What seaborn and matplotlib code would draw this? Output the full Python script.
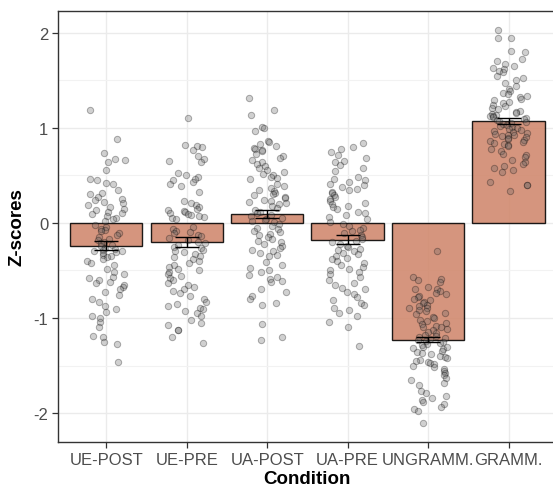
import numpy as np
import pandas as pd
import matplotlib.pyplot as plt
import seaborn as sns
from matplotlib.ticker import MultipleLocator

# --- values ---
conditions = ["UE-POST", "UE-PRE", "UA-POST", "UA-PRE", "UNGRAMM.", "GRAMM."]
means = [-0.24, -0.20, 0.095, -0.175, -1.228, 1.075]
ses = [0.045, 0.05, 0.045, 0.045, 0.028, 0.033]

ue_post = [1.19, 0.88, 0.74, 0.67, 0.66, 0.64, 0.56, 0.46, 0.45, 0.42, 0.41,
           0.35, 0.32, 0.30, 0.27, 0.25, 0.24, 0.22, 0.21, 0.19, 0.17, 0.15, 0.14,
           0.12, 0.10, 0.09, 0.07, 0.05, 0.04, 0.02,
           -0.02, -0.04, -0.06, -0.07, -0.09, -0.11, -0.13, -0.15, -0.17, -0.18,
           -0.20, -0.21, -0.23, -0.24,
           -0.26, -0.27, -0.28, -0.29, -0.30, -0.31, -0.32, -0.34, -0.35, -0.36,
           -0.38, -0.40, -0.42, -0.44,
           -0.48, -0.52, -0.54, -0.57, -0.58, -0.60, -0.62, -0.63, -0.65, -0.67,
           -0.70, -0.73, -0.76,
           -0.80, -0.83, -0.87, -0.91, -0.94, -0.98, -1.00, -1.04, -1.10,
           -1.19, -1.20, -1.25, -1.27, -1.46]
ue_pre = [1.10, 0.82, 0.81, 0.80, 0.77, 0.70, 0.67, 0.65, 0.64,
          0.53, 0.50, 0.48, 0.46, 0.45, 0.43, 0.41, 0.39, 0.33,
          0.23, 0.21, 0.19, 0.17, 0.15, 0.14, 0.13, 0.12, 0.10, 0.09, 0.08, 0.07,
          0.06, 0.05, 0.04,
          -0.04, -0.06, -0.08, -0.10, -0.11, -0.13, -0.14, -0.16, -0.18, -0.20,
          -0.21, -0.23, -0.25, -0.26, -0.28, -0.29, -0.31, -0.33, -0.35, -0.36,
          -0.38, -0.40, -0.42, -0.44, -0.46, -0.48, -0.50, -0.52, -0.54, -0.56,
          -0.58, -0.60, -0.63, -0.65, -0.67, -0.69, -0.72, -0.74, -0.77,
          -0.80, -0.83, -0.85, -0.87, -0.89, -0.91, -0.93, -0.95, -0.98,
          -1.02, -1.05, -1.07, -1.13, -1.13, -1.20, -1.26]
ua_post = [1.31, 1.19, 1.14, 1.01, 1.00, 0.97,
           0.86, 0.85, 0.83, 0.81, 0.79, 0.78, 0.77, 0.76,
           0.73, 0.70, 0.68, 0.66, 0.64, 0.62, 0.60, 0.58, 0.56, 0.54, 0.52, 0.50,
           0.48, 0.47, 0.46,
           0.41, 0.39, 0.37, 0.35, 0.34, 0.32, 0.30, 0.29, 0.27, 0.26, 0.24, 0.23,
           0.22, 0.21, 0.20,
           0.18, 0.16, 0.14, 0.12, 0.10, 0.08, 0.07, 0.05, 0.04, 0.03, 0.02, 0.01,
           -0.01, -0.03, -0.05, -0.06, -0.08, -0.10, -0.12, -0.13, -0.15, -0.17,
           -0.19, -0.20, -0.22, -0.24, -0.26, -0.28, -0.30, -0.32, -0.34, -0.35,
           -0.41, -0.44, -0.47, -0.50, -0.52, -0.55, -0.57, -0.59, -0.61, -0.62,
           -0.70, -0.73, -0.77, -0.80, -0.84, -0.86,
           -1.06, -1.20, -1.23]
ua_pre = [0.84, 0.80, 0.78, 0.75, 0.72, 0.68, 0.65,
          0.64, 0.61, 0.58, 0.55,
          0.48, 0.46, 0.45, 0.43, 0.41, 0.40, 0.38, 0.36, 0.35, 0.33,
          0.31, 0.29, 0.27, 0.25, 0.23, 0.21, 0.20, 0.18,
          0.17, 0.15, 0.12, 0.10, 0.08, 0.06, 0.04, 0.01,
          -0.01, -0.03, -0.05, -0.07, -0.09, -0.11, -0.13, -0.15, -0.17, -0.19,
          -0.20, -0.22, -0.24, -0.25, -0.27, -0.28, -0.30, -0.32, -0.33, -0.35,
          -0.37, -0.38, -0.40, -0.42, -0.44, -0.46, -0.48, -0.50, -0.52, -0.54,
          -0.57, -0.60, -0.63, -0.65, -0.68, -0.70, -0.73, -0.75,
          -0.78, -0.81, -0.84, -0.86, -0.89, -0.92, -0.95, -0.98,
          -1.04, -1.09, -1.29]
ungramm = [-0.29, -0.57, -0.59, -0.60, -0.62,
           -0.67, -0.69, -0.70, -0.72, -0.74, -0.75, -0.77, -0.78, -0.80, -0.81,
           -0.83, -0.84, -0.86, -0.87, -0.89, -0.90, -0.92, -0.93, -0.95, -0.96,
           -0.99, -1.00, -1.02, -1.03, -1.05, -1.06, -1.08, -1.09, -1.10, -1.12,
           -1.13, -1.15, -1.16, -1.18, -1.19, -1.20, -1.21, -1.22, -1.23, -1.24,
           -1.25, -1.26, -1.27, -1.28, -1.30, -1.31, -1.32, -1.33, -1.35, -1.36,
           -1.37, -1.38, -1.40, -1.41, -1.42, -1.44, -1.45, -1.46, -1.47, -1.48,
           -1.50, -1.52, -1.54, -1.56, -1.58, -1.60, -1.63, -1.65, -1.68, -1.70,
           -1.77, -1.79, -1.82, -1.84, -1.86, -1.88, -1.91, -1.94, -1.96, -1.98,
           -2.10]
gramm = [2.03, 1.95, 1.95, 1.81, 1.80, 1.73, 1.63,
         1.70, 1.67, 1.65, 1.62, 1.60, 1.59,
         1.55, 1.52, 1.50, 1.47, 1.44,
         1.41, 1.39, 1.37, 1.36, 1.34, 1.32, 1.30, 1.29, 1.27, 1.26, 1.24, 1.23,
         1.21, 1.20, 1.18, 1.17, 1.16, 1.15, 1.14, 1.13, 1.12, 1.11, 1.10, 1.09,
         1.08, 1.07, 1.06, 1.05, 1.04, 1.03, 1.02, 1.01, 1.00, 0.99, 0.98, 0.97, 0.96,
         0.95, 0.94, 0.93, 0.92, 0.91, 0.90, 0.89, 0.88, 0.87, 0.86, 0.85, 0.84,
         0.83, 0.82, 0.81,
         0.78, 0.76, 0.73, 0.71, 0.69, 0.66, 0.64, 0.62, 0.60, 0.58, 0.56, 0.54,
         0.43, 0.40, 0.40, 0.34]

points = pd.concat([
    pd.DataFrame({"Condition": c, "Z": v})
    for c, v in zip(conditions, [ue_post, ue_pre, ua_post, ua_pre, ungramm, gramm])
], ignore_index=True)
summary = pd.DataFrame({"Condition": conditions, "Mean": means, "SE": ses})

sns.set_theme(style="white")
plt.rcParams["font.family"] = ["Liberation Sans", "DejaVu Sans"]

fig = plt.figure(figsize=(5.53, 4.89), dpi=100)
ax = fig.add_axes([0.1049, 0.094, 0.902, 0.8815])

sns.barplot(data=summary, x="Condition", y="Mean", order=conditions,
            color="#D0876C", saturation=1, alpha=0.88, edgecolor="black",
            linewidth=1.0, width=0.9, errorbar=None, ax=ax, zorder=2)

np.random.seed(7)
sns.stripplot(data=points, x="Condition", y="Z", order=conditions,
              jitter=0.24, size=4.6, color="#666666", edgecolor="black",
              linewidth=0.7, alpha=0.3, ax=ax, zorder=3)

ax.errorbar(x=np.arange(len(conditions)), y=summary["Mean"], yerr=summary["SE"],
            fmt="none", ecolor="black", elinewidth=1.0, capsize=8.5, capthick=1.0,
            zorder=4)

ax.set_xlim(-0.6, 5.6)
ax.set_ylim(-2.305, 2.23)
ax.yaxis.set_major_locator(MultipleLocator(1))
ax.yaxis.set_minor_locator(MultipleLocator(0.5))
ax.set_yticks([-2, -1, 0, 1, 2])
ax.set_yticklabels(["-2", "-1", "0", "1", "2"])

ax.set_axisbelow(True)
ax.grid(True, which="major", color="#EBEBEB", linewidth=1.0)
ax.grid(True, which="minor", axis="y", color="#F2F2F2", linewidth=0.8)

for side in ["left", "bottom", "top", "right"]:
    ax.spines[side].set_color("#333333")
    ax.spines[side].set_linewidth(1.0)

ax.tick_params(axis="both", which="major", length=4, width=0.9, color="#333333",
               labelsize=12, labelcolor="#4D4D4D", pad=3, bottom=True, left=True)
ax.tick_params(axis="y", which="minor", length=0)

ax.set_xlabel("Condition", fontsize=13.5, fontweight="bold", color="black", labelpad=2)
ax.set_ylabel("Z-scores", fontsize=13.5, fontweight="bold", color="black", labelpad=6)

fig.savefig("out.png", dpi=100)
